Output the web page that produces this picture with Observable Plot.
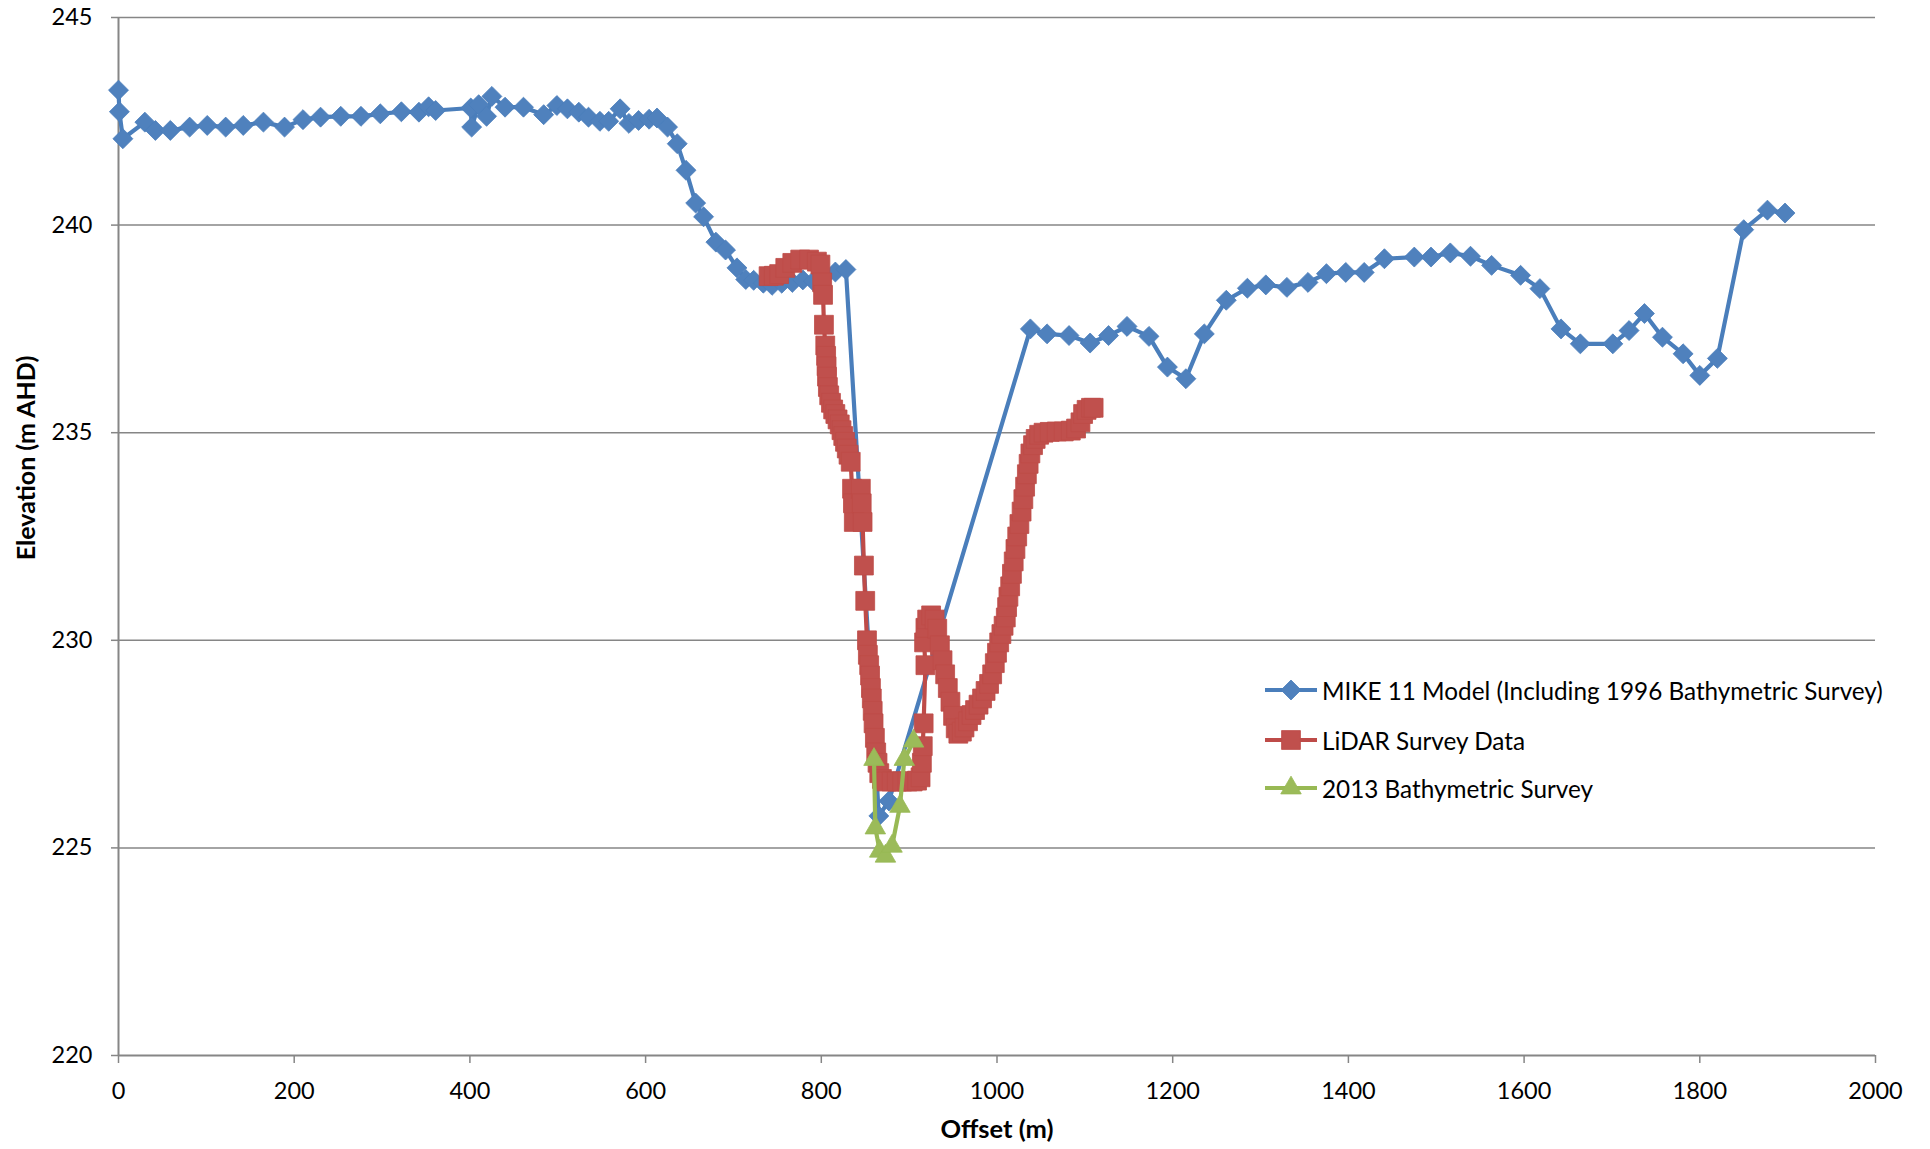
<!DOCTYPE html>
<html>
<head>
<meta charset="utf-8">
<script src="https://cdn.jsdelivr.net/npm/d3@7"></script>
<script src="https://cdn.jsdelivr.net/npm/@observablehq/plot@0.6"></script>
<style>
  html, body { margin: 0; padding: 0; background: #fff; }
  #wrap { position: relative; width: 1930px; height: 1149px; }
  #wrap svg { display: block; }
  #overlay { position: absolute; left: 0; top: 0; pointer-events: none; }
</style>
</head>
<body>
<div id="wrap"></div>
<script>
// ---- Data ----
const seriesNames = [
  "MIKE 11 Model (Including 1996 Bathymetric Survey)",
  "LiDAR Survey Data",
  "2013 Bathymetric Survey"
];
const seriesColors = ["#4A7EBB", "#BE4B48", "#98B954"];
const markerColors = ["#4F81BD", "#C0504D", "#9BBB59"];

const mikeOffset = [0, 1, 5, 30, 42, 59, 81, 101, 122, 142, 165, 189, 210, 230, 253, 276, 298, 322, 342, 353, 361,
  401, 402, 410, 419, 425, 440, 461, 484, 499, 511, 524, 535, 548, 558, 571, 581, 592, 604, 613, 625, 636, 646, 657,
  666, 680, 691, 704, 714, 723, 734, 744, 755, 767, 779, 791, 803, 816, 828, 865.5, 877, 1038, 1057, 1082, 1106,
  1127, 1148, 1173, 1194, 1215, 1236, 1261, 1285, 1306, 1330, 1354, 1375, 1397, 1418, 1441, 1475, 1494, 1516, 1539,
  1563, 1596, 1618, 1642, 1664, 1701, 1719.5, 1737, 1757.5, 1781, 1800, 1820, 1850, 1877, 1897];
const mikeElev = [243.25, 242.73, 242.08, 242.48, 242.28, 242.28, 242.36, 242.4, 242.36, 242.4, 242.48, 242.36, 242.54,
  242.6, 242.62, 242.62, 242.68, 242.73, 242.72, 242.85, 242.76, 242.82, 242.36, 242.9, 242.62, 243.1, 242.84, 242.84,
  242.66, 242.88, 242.8, 242.72, 242.6, 242.5, 242.5, 242.8, 242.45, 242.52, 242.55, 242.58, 242.36, 241.96, 241.32,
  240.53, 240.2, 239.59, 239.4, 238.97, 238.69, 238.67, 238.6, 238.55, 238.6, 238.62, 238.68, 238.65, 238.75, 238.87,
  238.93, 225.77, 226.13, 237.5, 237.38, 237.34, 237.16, 237.34, 237.56, 237.32, 236.58, 236.3, 237.38, 238.19, 238.48,
  238.56, 238.5, 238.62, 238.83, 238.86, 238.86, 239.19, 239.23, 239.23, 239.33, 239.25, 239.03, 238.79, 238.47, 237.5,
  237.14, 237.14, 237.46, 237.87, 237.3, 236.9, 236.38, 236.79, 239.89, 240.36, 240.29];

const lidarOffset = [740, 746, 752, 759, 767, 776, 786, 795, 799, 801, 802, 803, 804.5, 805.5, 806, 806.5, 807.5, 809,
  811, 813.5, 816, 818.5, 821, 823, 825, 827, 829, 831, 833.5, 835, 836, 837, 845, 846, 847, 848.5, 850, 852, 853,
  854.5, 855.5, 856.5, 857.5, 858.5, 859.5, 861, 862.5, 864, 866, 869, 874, 880, 886, 892, 898, 904, 909, 913, 914.5,
  915.5, 916.5, 918.5, 917, 918.5, 920.5, 925, 929, 932, 935, 938, 941, 944, 947, 950, 953, 956, 960, 963, 967, 971,
  975, 979, 983, 987, 991, 994.5, 997.5, 1000, 1002.5, 1005, 1007.5, 1010, 1011.5, 1013, 1015, 1017, 1019, 1021, 1023,
  1025.5, 1028, 1030, 1032, 1034, 1036, 1038, 1041, 1044, 1048, 1053, 1060, 1068, 1076, 1084, 1090, 1095, 1098, 1102,
  1107, 1110];
const lidarElev = [238.77, 238.78, 238.82, 238.97, 239.09, 239.17, 239.17, 239.12, 239.05, 238.62, 238.32, 237.6, 237.1,
  236.85, 236.6, 236.35, 236.1, 235.9, 235.72, 235.56, 235.45, 235.32, 235.2, 235.06, 234.92, 234.78, 234.62, 234.47,
  234.3, 233.65, 233.3, 232.85, 233.65, 233.3, 232.85, 231.8, 230.95, 230.0, 229.65, 229.4, 229.15, 228.85, 228.6, 228.3,
  228.0, 227.65, 227.3, 227.05, 226.8, 226.66, 226.6, 226.6, 226.6, 226.6, 226.6, 226.6, 226.62, 226.7, 227.05, 227.45,
  228.0, 229.4, 229.95, 230.3, 230.5, 230.6, 230.5, 230.28, 229.88, 229.52, 229.18, 228.85, 228.52, 228.18, 227.88,
  227.75, 227.8, 227.9, 228.05, 228.2, 228.32, 228.45, 228.6, 228.78, 228.95, 229.18, 229.45, 229.7, 229.95, 230.15,
  230.35, 230.55, 230.8, 231.05, 231.3, 231.6, 231.9, 232.2, 232.5, 232.8, 233.1, 233.4, 233.7, 234.0, 234.25, 234.5,
  234.7, 234.85, 234.95, 235.0, 235.02, 235.03, 235.03, 235.05, 235.1, 235.25, 235.45, 235.55, 235.6, 235.6];

const bathyOffset = [860, 861.5, 866.5, 873, 880.5, 889.5, 894.5, 905];
const bathyElev = [227.13, 225.48, 224.92, 224.8, 225.04, 226.0, 227.13, 227.57];

const xTicks = [0, 200, 400, 600, 800, 1000, 1200, 1400, 1600, 1800, 2000];
const yTicks = [220, 225, 230, 235, 240, 245];
const xTitle = "Offset (m)";
const yTitle = "Elevation (m AHD)";

// ---- Build tables ----
const toRows = (xs, ys) => xs.map((x, i) => ({offset: x, elev: ys[i]}));
const mike = toRows(mikeOffset, mikeElev);
const lidar = toRows(lidarOffset, lidarElev);
const bathy = toRows(bathyOffset, bathyElev);

const symbols = ["diamond2", "square2", "triangle2"];
const radii = [9.0, 12.0, 9.8];
const FONT = "Lato, 'Open Sans', sans-serif";
const gridColor = "#868686";

function seriesMarks(data, k) {
  return [
    Plot.line(data, {x: "offset", y: "elev", stroke: seriesColors[k], strokeWidth: 4.2, strokeLinejoin: "round", strokeLinecap: "round"}),
    Plot.dot(data, {x: "offset", y: "elev", symbol: symbols[k], r: radii[k], fill: markerColors[k], stroke: seriesColors[k], strokeWidth: 0.8})
  ];
}

const chart = Plot.plot({
  width: 1930,
  height: 1149,
  marginLeft: 118,
  marginRight: 55,
  marginTop: 17,
  marginBottom: 94,
  style: {fontFamily: FONT, fontSize: "23.5px", color: "#000", background: "#fff"},
  x: {domain: [0, 2000]},
  y: {domain: [220, 245]},
  marks: [
    Plot.gridY(yTicks.filter(d => d > 220), {stroke: gridColor, strokeOpacity: 1, strokeWidth: 1.5}),
    Plot.ruleX([0], {stroke: gridColor, strokeWidth: 2}),
    Plot.ruleY([220], {stroke: gridColor, strokeWidth: 2}),
    Plot.axisX({ticks: xTicks, tickSize: 8, tickPadding: 19, tickFormat: d => String(d), stroke: gridColor, strokeWidth: 1.5, fill: "#000", label: null}),
    Plot.axisY({ticks: yTicks, tickSize: 7, tickPadding: 19, tickFormat: d => String(d), stroke: gridColor, strokeWidth: 1.5, fill: "#000", label: null}),
    ...seriesMarks(mike, 0),
    ...seriesMarks(lidar, 1),
    ...seriesMarks(bathy, 2)
  ]
});

const wrap = document.getElementById("wrap");
wrap.appendChild(chart);

// ---- Overlay: axis titles and legend ----
const ov = d3.select(wrap).append("svg")
  .attr("id", "overlay")
  .attr("width", 1930).attr("height", 1149)
  .style("font-family", FONT);

ov.append("text")
  .attr("x", 997).attr("y", 1138)
  .attr("text-anchor", "middle")
  .style("font-size", "25.5px").style("font-weight", "bold")
  .text(xTitle);

ov.append("text")
  .attr("transform", "translate(35,458) rotate(-90)")
  .attr("text-anchor", "middle")
  .style("font-size", "25px").style("font-weight", "bold")
  .text(yTitle);

const d3Symbols = [d3.symbolDiamond2, d3.symbolSquare2, d3.symbolTriangle2];
const legendY = [690, 740, 788];
const leg = ov.append("g");
seriesNames.forEach((name, k) => {
  const g = leg.append("g").attr("transform", `translate(0,${legendY[k]})`);
  g.append("line").attr("x1", 1265).attr("x2", 1317).attr("y1", 0).attr("y2", 0)
    .attr("stroke", seriesColors[k]).attr("stroke-width", 4.2);
  g.append("path")
    .attr("transform", "translate(1291,0)")
    .attr("d", d3.symbol(d3Symbols[k], radii[k] * radii[k] * Math.PI)())
    .attr("fill", markerColors[k]).attr("stroke", seriesColors[k]).attr("stroke-width", 0.8);
  g.append("text").attr("x", 1322).attr("y", 9.5)
    .style("font-size", "24.3px").attr("fill", "#000")
    .text(name);
});
</script>
</body>
</html>
